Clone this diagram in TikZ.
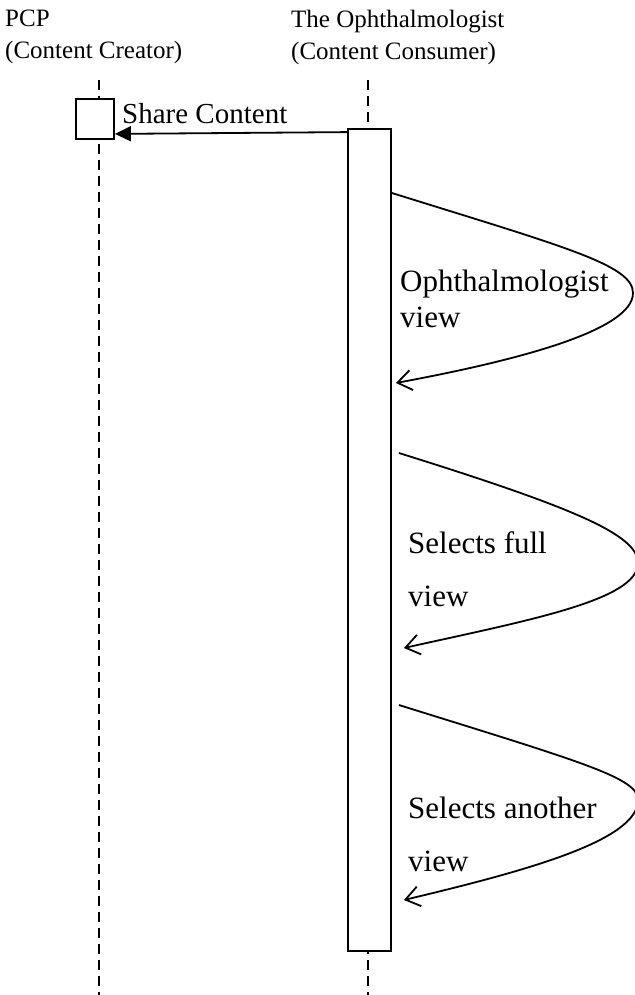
\documentclass[tikz,border=0pt]{standalone}
\usepackage{fontspec}
\setmainfont{Liberation Serif}
\usetikzlibrary{arrows.meta, positioning}

\begin{document}
\begin{tikzpicture}[
  x=1pt, y=-1pt,
  head/.style={font=\fontsize{25}{32}\selectfont, align=left, anchor=north west, inner sep=0pt},
  lbl/.style={font=\fontsize{31}{#1}\selectfont, align=left, anchor=north west, inner sep=0pt},
  actbox/.style={draw, fill=white, line width=1.8pt, inner sep=0pt},
  life/.style={dash pattern=on 10pt off 6pt, line width=1.8pt},
  msg/.style={-{Triangle[length=16pt, width=15pt]}, line width=1.8pt},
  selfmsg/.style={-{Straight Barb[length=14pt, width=20pt]}, line width=1.8pt}
]
\useasboundingbox (0,0) rectangle (634,995);

% Headers
\node[head] (pcp) at (5,10) {PCP\\(Content Creator)};
\node[head] (oph) at (291,10) {The Ophthalmologist\\(Content Consumer)};

% Lifelines
\coordinate (pcptop) at (99,80);
\coordinate (pcpbot) at (99,995);
\coordinate (ophtop) at (368,80);
\coordinate (ophbot) at (368,995);
\draw[life] (pcptop) -- (pcpbot);
\draw[life] (ophtop) -- (ophbot);

% Activations
\node[actbox, minimum width=38pt, minimum height=40pt] (pcpbox) at (95,119) {};
\node[actbox, minimum width=43pt, minimum height=822pt] (act) at (369.5,540) {};

% Share
\draw[msg] ([yshift=-4pt]act.north west) -- ([yshift=6pt]pcpbox.south east);
\node[font=\fontsize{29}{34}\selectfont, inner sep=0pt, anchor=base west] (share) at (122,124) {Share Content};

% Self messages
\coordinate (a1) at (act.east |- 0,193);
\coordinate (b1) at ([xshift=4pt]act.east |- 0,383);
\coordinate (a2) at ([xshift=7pt]act.east |- 0,453);
\coordinate (b2) at ([xshift=12pt]act.east |- 0,648);
\coordinate (a3) at ([xshift=7pt]act.east |- 0,705);
\coordinate (b3) at ([xshift=12pt]act.east |- 0,900);

\draw[selfmsg] (a1) .. controls (565,247) and (633,265) .. (633,293)
  .. controls (633,330) and (520,360) .. (b1);
\draw[selfmsg] (a2) .. controls (575,508) and (638,535) .. (638,563)
  .. controls (638,600) and (530,620) .. (b2);
\draw[selfmsg] (a3) .. controls (585,763) and (638,778) .. (638,800)
  .. controls (638,840) and (530,870) .. (b3);

\node[lbl=36] (lblone) at (400,270) {Ophthalmologist\\view};
\node[lbl=53] (lbltwo) at (408,531) {Selects full\\view};
\node[lbl=53] (lblthree) at (408,797) {Selects another\\view};

\end{tikzpicture}
\end{document}
